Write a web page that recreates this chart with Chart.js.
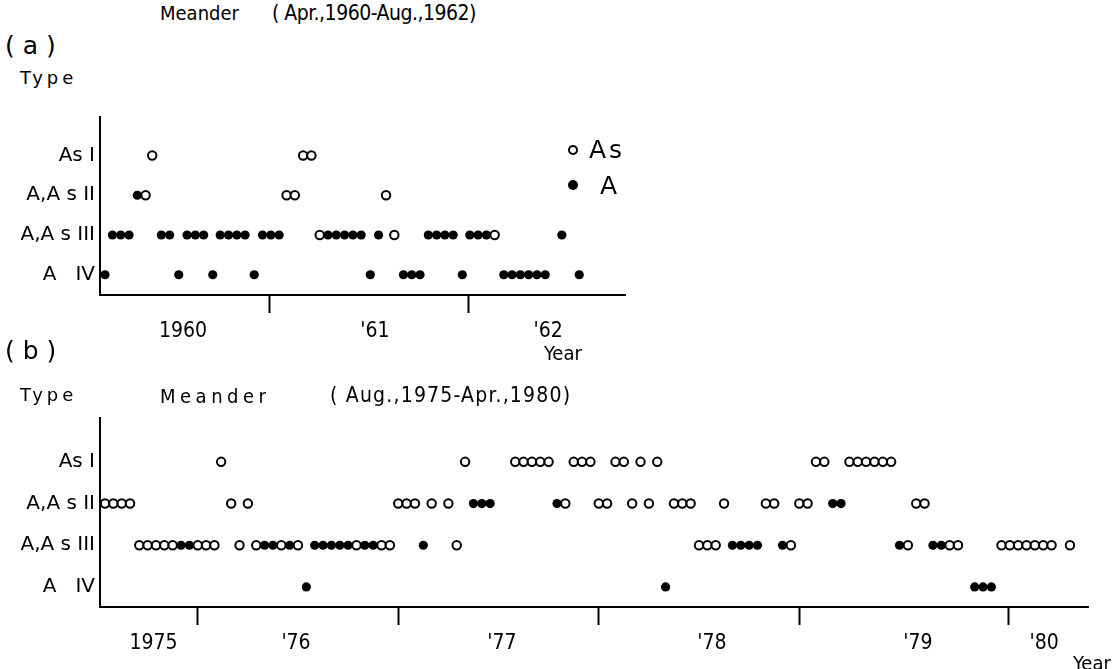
<!DOCTYPE html>
<html>
<head>
<meta charset="utf-8">
<script src="https://cdn.jsdelivr.net/npm/chart.js@4.4.1/dist/chart.umd.min.js"></script>
<style>
  html, body { margin:0; padding:0; background:#fff; }
  body { width:1117px; height:669px; position:relative; overflow:hidden; font-family:'Liberation Sans Narrow','DejaVu Sans Condensed','DejaVu Sans', sans-serif; color:#000; }
  .t { position:absolute; white-space:nowrap; line-height:1; z-index:2; }
  canvas { position:absolute; z-index:1; }
  .dot { position:absolute; border-radius:50%; box-sizing:border-box; z-index:2; }
  .w { font-family:'DejaVu Sans', sans-serif; }
</style>
</head>
<body>
<canvas id="ca" width="640" height="260" style="left:0;top:100px;"></canvas>
<canvas id="cb" width="1117" height="269" style="left:0;top:400px;"></canvas>

<div class="t" style="left:160px;top:3px;font-size:20px;">Meander</div>
<div class="t" style="left:272px;top:3px;font-size:21px;letter-spacing:-0.5px;">( Apr.,1960-Aug.,1962)</div>
<div class="t w" style="left:5px;top:33px;font-size:25px;">( a )</div>
<div class="t w" style="left:20px;top:69px;font-size:18px;letter-spacing:4px;">Type</div>

<div class="dot" style="left:568px;top:145px;width:10px;height:10px;border:2px solid #000;background:#fff;"></div>
<div class="t w" style="left:589px;top:137px;font-size:25px;letter-spacing:3px;">As</div>
<div class="dot" style="left:568px;top:180px;width:10px;height:10px;background:#000;"></div>
<div class="t w" style="left:600px;top:173px;font-size:25px;">A</div>

<div class="t w" style="left:5px;top:338px;font-size:25px;">( b )</div>
<div class="t" style="left:544px;top:343px;font-size:20px;">Year</div>
<div class="t w" style="left:20px;top:386px;font-size:18px;letter-spacing:4px;">Type</div>
<div class="t" style="left:160px;top:386px;font-size:20px;letter-spacing:4.5px;">Meander</div>
<div class="t" style="left:330px;top:385px;font-size:21px;letter-spacing:1.2px;">( Aug.,1975-Apr.,1980)</div>
<div class="t" style="left:1073px;top:653px;font-size:20px;">Year</div>

<script>
// ---------- Panel (a): Meander Apr.1960 - Aug.1962 (x = months since Jan 1960) ----------
const aRowLabels = ['A   IV', 'A,A s III', 'A,A s II', 'As I'];
const aYearTicks = [12, 24];
const aLabelPos = [6.75, 18.33, 28.77];
const aLabelText = ['1960', "'61", "'62"];
const aAsI_open = [4.9, 14.0, 14.5];
const aAsII_filled = [4.0];
const aAsII_open = [4.5, 13.0, 13.5, 19.0];
const aAsIII_filled = [2.5, 3.0, 3.5, 5.45, 5.95, 7.0, 7.5, 8.0, 9.0, 9.5, 10.0, 10.5, 11.55, 12.05, 12.55,
  15.5, 16.0, 16.5, 17.0, 17.5, 18.55, 21.55, 22.05, 22.55, 23.05, 24.05, 24.55, 25.05, 29.6];
const aAsIII_open = [15.0, 19.5, 25.55];
const aAIV_filled = [2.05, 6.5, 8.55, 11.05, 18.05, 20.05, 20.55, 21.05, 23.6, 26.1, 26.6, 27.1, 27.6, 28.1, 28.6, 30.65];

// ---------- Panel (b): Meander Aug.1975 - Apr.1980 (x = months since Jan 1975) ----------
const bRowLabels = ['A   IV', 'A,A s III', 'A,A s II', 'As I'];
const bYearTicks = [12, 24, 36, 48, 60.5];
const bLabelPos = [9.35, 17.88, 30.2, 42.77, 55.1, 62.65];
const bLabelText = ['1975', "'76", "'77", "'78", "'79", "'80"];
const bAsI_open = [13.4, 28.0, 31.0, 31.5, 32.0, 32.5, 33.0, 34.5, 35.0, 35.5, 37.0, 37.5, 38.5, 39.5,
  49.0, 49.5, 51.0, 51.5, 52.0, 52.5, 53.0, 53.5];
const bAsII_open = [6.45, 6.95, 7.45, 7.95, 14.0, 15.0, 24.0, 24.5, 25.0, 26.0, 27.0, 34.0, 36.0, 36.5,
  38.0, 39.0, 40.5, 41.0, 41.5, 43.5, 46.0, 46.5, 48.0, 48.5, 55.0, 55.5];
const bAsII_filled = [28.5, 29.0, 29.5, 33.5, 50.0, 50.5];
const bAsIII_open = [8.5, 9.0, 9.5, 10.0, 10.5, 12.0, 12.5, 13.0, 14.5, 15.5, 17.0, 18.0, 21.5, 23.0, 23.5,
  27.5, 42.0, 42.5, 43.0, 47.5, 54.5, 57.0, 57.5, 60.1, 60.6, 61.1, 61.6, 62.1, 62.6, 63.1, 64.2];
const bAsIII_filled = [11.0, 11.5, 16.0, 16.5, 17.5, 19.0, 19.5, 20.0, 20.5, 21.0, 22.0, 22.5, 25.5,
  44.0, 44.5, 45.0, 45.5, 47.0, 54.0, 56.0, 56.5];
const bAIV_filled = [18.5, 40.0, 58.5, 59.0, 59.5];

function pts(xs, row) { return xs.map(x => ({ x: x, y: row })); }

function openSet(data) {
  return { data, showLine: false, pointStyle: 'circle', pointRadius: 4.2, pointHoverRadius: 4.2,
    pointBorderWidth: 2, pointBackgroundColor: '#fff', pointBorderColor: '#000', clip: false };
}
function filledSet(data) {
  return { data, showLine: false, pointStyle: 'circle', pointRadius: 4.6, pointHoverRadius: 4.6,
    pointBorderWidth: 0, pointBackgroundColor: '#000', pointBorderColor: '#000', clip: false };
}

const tickFont = "'Liberation Sans Narrow','DejaVu Sans Condensed','DejaVu Sans',sans-serif";

function makeOptions(cfg) {
  return {
    responsive: false, animation: false, devicePixelRatio: 1,
    layout: { padding: { left: 0, top: cfg.padTop, right: cfg.padRight, bottom: 0 } },
    plugins: { legend: { display: false }, tooltip: { enabled: false } },
    scales: {
      x: {
        type: 'linear', min: cfg.xMin, max: cfg.xMax,
        afterBuildTicks: s => {
          const t = cfg.yearTicks.map(v => ({ value: v, kind: 'b', text: '' }))
            .concat(cfg.labelPos.map((v, i) => ({ value: v, kind: 'l', text: cfg.labelText[i] })));
          t.sort((p, q) => p.value - q.value);
          s.ticks = t;
        },
        ticks: { autoSkip: false, maxRotation: 0, minRotation: 0, padding: 6, color: '#000',
          font: { size: 21, family: tickFont },
          callback: (v, i, ticks) => ticks[i].text || '' },
        grid: { drawOnChartArea: false, drawTicks: true, tickLength: 18, tickWidth: 2,
          tickColor: c => (c.tick && c.tick.kind === 'b') ? '#000' : 'rgba(0,0,0,0)' },
        border: { display: true, color: '#000', width: 2 },
        afterFit: s => { s.height = cfg.xAxisH; }
      },
      y: {
        type: 'linear', min: cfg.yMin, max: cfg.yMax,
        afterBuildTicks: s => { s.ticks = [1, 2, 3, 4].map(v => ({ value: v })); },
        ticks: { padding: 5, color: '#000', font: { size: 20, family: "'DejaVu Sans',sans-serif" },
          callback: v => cfg.rowLabels[Math.round(v) - 1] },
        grid: { drawOnChartArea: false, drawTicks: false },
        border: { display: true, color: '#000', width: 2 },
        afterFit: s => { s.width = 100; }
      }
    }
  };
}

new Chart(document.getElementById('ca'), {
  type: 'scatter',
  data: { datasets: [
    filledSet([].concat(pts(aAsII_filled, 3), pts(aAsIII_filled, 2), pts(aAIV_filled, 1))),
    openSet([].concat(pts(aAsI_open, 4), pts(aAsII_open, 3), pts(aAsIII_open, 2)))
  ] },
  options: makeOptions({ padTop: 10, padRight: 15, xAxisH: 65, xMin: 1.75, xMax: 33.41,
    yMin: 0.49, yMax: 4.97, yearTicks: aYearTicks, labelPos: aLabelPos, labelText: aLabelText,
    rowLabels: aRowLabels })
});

new Chart(document.getElementById('cb'), {
  type: 'scatter',
  data: { datasets: [
    filledSet([].concat(pts(bAsII_filled, 3), pts(bAsIII_filled, 2), pts(bAIV_filled, 1))),
    openSet([].concat(pts(bAsI_open, 4), pts(bAsII_open, 3), pts(bAsIII_open, 2)))
  ] },
  options: makeOptions({ padTop: 18, padRight: 29, xAxisH: 62, xMin: 6.15, xMax: 65.28,
    yMin: 0.52, yMax: 5.05, yearTicks: bYearTicks, labelPos: bLabelPos, labelText: bLabelText,
    rowLabels: bRowLabels })
});
</script>
</body>
</html>
